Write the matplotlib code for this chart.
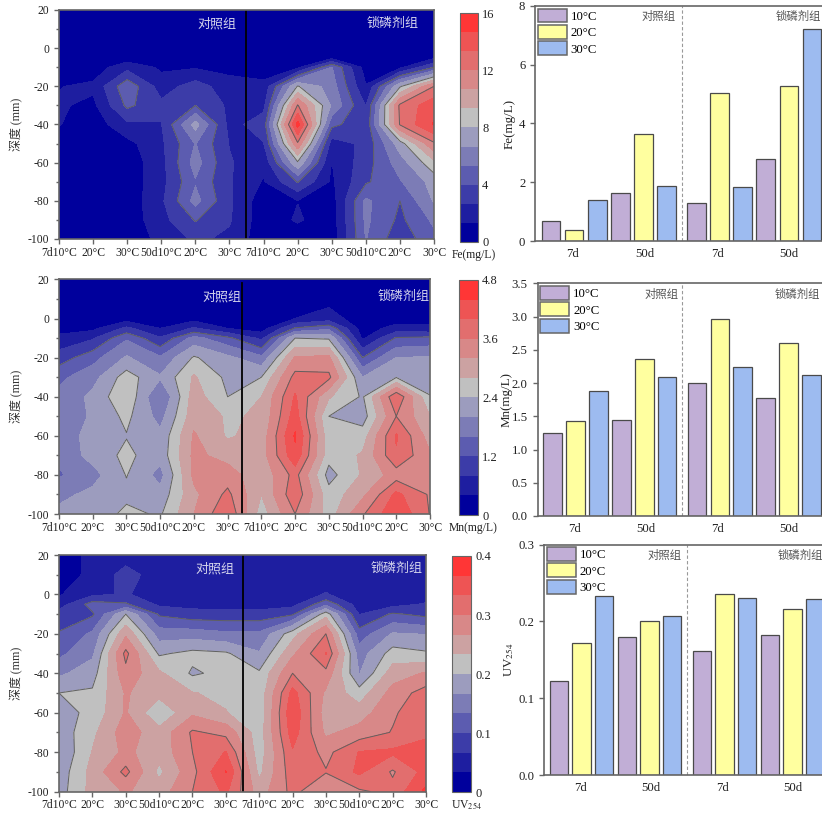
import numpy as np
import matplotlib
matplotlib.use("Agg")
import matplotlib.pyplot as plt
from matplotlib.patches import Patch

plt.rcParams['font.family'] = ['Liberation Serif', 'Noto Sans CJK SC', 'DejaVu Sans']
plt.rcParams['mathtext.fontset'] = 'stix'
plt.rcParams['axes.unicode_minus'] = False

# depth rows of the contour grids, each list below is one tick column top to bottom
depth = [20, 10, 0, -5, -10, -20, -30, -40, -50, -60, -70, -80, -90, -100]
x_labels = ['7d10°C', '20°C', '30°C', '50d10°C', '20°C', '30°C'] * 2

fe_cols = [
    [.5, .5, .5, .5, .6, 1.28, 1.5, 1.4, .6, .5, .5, .5, .5, .5],
    [.5, .5, .5, .5, .6, 1.6, 1.0, .5, .5, .5, .5, .5, .5, .5],
    [.5, .5, .5, .6, 2.2, 5.0, 4.3, 2.4, .9, .5, .5, .5, .5, .5],
    [.5, .5, .5, .6, 1.1, 2.0, 3.0, 2.6, 2.4, 2.2, 2.2, 2.4, 2.2, 1.7],
    [.5, .5, .5, .6, 1.2, 3.3, 4.0, 7.2, 5.4, 5.9, 5.2, 5.8, 4.1, 2.9],
    [.5, .5, .5, .6, .9, 1.9, 2.4, 2.2, 2.6, 2.8, 2.8, 2.9, 2.8, 2.4],
    [.5, .5, .5, .5, .6, 1.7, 2.3, 3.3, 2.6, 1.7, 1.2, .5, .5, .5],
    [.5, .5, .5, .5, 1.0, 8.1, 12.1, 15.2, 11.8, 7.8, 4.1, 1.3, 1.5, .5],
    [.5, .5, .5, .9, 5.4, 6.0, 6.5, 4.4, 2.0, 1.3, 1.1, .7, .6, .5],
    [.5, .5, .5, .5, .7, 1.4, 2.6, 3.0, 3.0, 3.4, 3.8, 5.6, 5.6, 5.4],
    [.5, .5, .5, .6, 1.0, 7.8, 12.3, 12.1, 7.4, 6.0, 5.2, 4.0, 3.7, 3.1],
    [.6, .6, .8, 1.1, 4.0, 12.0, 14.2, 14.8, 11.8, 9.0, 7.2, 6.8, 5.6, 5.0],
]
mn_cols = [
    [.1, .1, .15, .25, .5, 1.0, 1.5, 1.7, 1.75, 1.8, 1.7, 1.55, 1.9, 2.1],
    [.1, .1, .15, .3, .75, 1.45, 1.85, 2.1, 2.05, 2.13, 2.15, 1.85, 2.1, 2.15],
    [.1, .1, .2, .9, 1.55, 2.05, 2.6, 2.75, 2.5, 2.38, 2.5, 2.42, 2.3, 2.5],
    [.1, .1, .12, .4, .85, 1.65, 2.05, 1.55, 1.85, 2.1, 2.15, 1.85, 2.15, 2.35],
    [.1, .1, .25, .85, 1.75, 2.45, 2.85, 3.0, 3.05, 3.25, 3.3, 3.3, 3.1, 3.2],
    [.1, .1, .18, .4, 1.3, 2.1, 2.3, 2.4, 2.75, 2.75, 3.05, 3.4, 3.7, 3.95],
    [.1, .1, .12, .2, .7, 1.7, 2.4, 2.8, 2.85, 2.95, 3.0, 2.9, 2.8, 2.6],
    [.1, .1, .4, 1.25, 2.4, 3.25, 3.75, 4.05, 4.2, 4.45, 4.3, 3.75, 3.9, 3.6],
    [.1, .25, .6, 1.5, 2.35, 3.3, 3.7, 2.85, 2.4, 2.55, 2.55, 2.25, 2.55, 2.6],
    [.1, .1, .15, .2, .33, 1.2, 2.0, 2.35, 2.2, 2.6, 2.85, 2.85, 3.1, 3.55],
    [.1, .1, .2, .55, 1.25, 2.0, 2.38, 3.95, 3.6, 4.05, 3.95, 3.4, 4.1, 4.35],
    [.1, .1, .25, .5, 1.3, 2.05, 2.2, 2.42, 2.8, 3.0, 3.25, 3.4, 3.55, 3.58],
]
uv_cols = [
    [.02, .02, .03, .05, .08, .103, .125, .16, .2, .185, .18, .17, .18, .185],
    [.04, .04, .06, .115, .095, .14, .16, .185, .205, .21, .225, .235, .245, .245],
    [.05, .08, .07, .105, .2, .26, .31, .29, .27, .27, .285, .275, .31, .27],
    [.04, .05, .05, .06, .095, .15, .195, .24, .245, .205, .245, .245, .225, .25],
    [.04, .04, .04, .055, .08, .15, .21, .195, .235, .26, .305, .3, .29, .3],
    [.04, .04, .04, .05, .08, .14, .205, .21, .225, .235, .29, .335, .368, .34],
    [.04, .04, .04, .05, .08, .14, .17, .205, .21, .21, .215, .215, .225, .25],
    [.04, .04, .04, .055, .095, .22, .26, .3, .345, .36, .35, .33, .32, .31],
    [.04, .04, .07, .125, .22, .3, .335, .29, .26, .25, .26, .29, .302, .27],
    [.04, .04, .04, .05, .065, .115, .15, .165, .215, .25, .28, .335, .34, .295],
    [.04, .04, .04, .055, .105, .17, .215, .25, .28, .295, .302, .34, .296, .31],
    [.05, .05, .05, .07, .09, .165, .205, .27, .315, .325, .33, .34, .345, .375],
]

fe_bars = [.68, .37, 1.4, 1.65, 3.65, 1.88, 1.3, 5.03, 1.84, 2.8, 5.27, 7.2]
mn_bars = [1.25, 1.43, 1.88, 1.45, 2.37, 2.09, 2.0, 2.97, 2.24, 1.77, 2.6, 2.13]
uv_bars = [.122, .172, .233, .18, .201, .207, .162, .235, .231, .182, .216, .229]
temps = ['10°C', '20°C', '30°C']
day_labels = ['7d', '50d', '7d', '50d']

band_colors = ['#00009C', '#1E1EA0', '#3C3CA8', '#5C5CB0', '#7C7CB6', '#9C9CBE',
               '#C0C0C0', '#CCA2A2', '#D88888', '#E26E6E', '#EE5454', '#FF3636']
bar_colors = ['#C1AED6', '#FFFF9F', '#9DBBF0']
frame = '#666666'

W, H = 822, 813
fig = plt.figure(figsize=(W / 100, H / 100), dpi=100)


def box(x0, y0, x1, y1):
    # pixel box (top left origin) to figure fraction
    return [x0 / W, 1 - y1 / H, (x1 - x0) / W, (y1 - y0) / H]


def label(x, y, s, **kw):
    fig.text(x / W, 1 - y / H, s, ha='center', va='center', **kw)


def style(ax):
    for s in ax.spines.values():
        s.set_color(frame)
        s.set_linewidth(1.2)
    ax.tick_params(which='both', direction='out', color=frame, width=1)
    ax.tick_params(which='major', length=3.5)
    ax.tick_params(which='minor', length=2)


def contour_panel(cols, vmax, cticks, ctlabels, name, axbox, cbox, line_x, line_top, name_xy):
    ax = fig.add_axes(box(*axbox))
    z = np.array(cols).T
    xs = np.arange(12)
    levels = np.linspace(0, vmax, 13)
    cf = ax.contourf(xs, depth, z, levels=levels, colors=band_colors)
    ax.contour(xs, depth, z, levels=levels[[3, 6, 9]], colors='#606060', linewidths=0.7)
    ax.plot([line_x, line_x], [-100, line_top], color='black', lw=1.3)
    ax.set_xlim(0, 11)
    ax.set_ylim(-100, 20)
    ax.set_xticks(xs)
    ax.set_xticklabels(x_labels, fontsize=8.4, color='#222222')
    ax.set_yticks(range(-100, 21, 20))
    ax.set_yticks(range(-90, 20, 20), minor=True)
    ax.tick_params(axis='y', labelsize=8.4, labelcolor='#222222')
    ax.tick_params(axis='x', pad=2)
    ax.set_ylabel('深度 (mm)', fontsize=8.6, color='#333333')
    ax.yaxis.set_label_coords((23 - axbox[0]) / (axbox[2] - axbox[0]), 0.5)
    style(ax)
    cax = fig.add_axes(box(*cbox))
    cb = fig.colorbar(cf, cax=cax, ticks=cticks)
    cb.ax.set_yticklabels(ctlabels, fontsize=9, color='#222222')
    cb.ax.tick_params(length=0, pad=3)
    cb.outline.set_edgecolor(frame)
    cb.outline.set_linewidth(0.8)
    label(cbox[0] + 14, cbox[3] + 13, name, fontsize=8.4, color='#222222')
    label(name_xy[0], name_xy[2], '对照组', fontsize=9.4, color='#D4D4EC')
    label(name_xy[1], name_xy[2], '锁磷剂组', fontsize=9.4, color='#D4D4EC')


def bar_panel(vals, ymax, yticks, ylab, axbox, x0, step, width, lab_x, names_xy, sep_x):
    ax = fig.add_axes(box(*axbox))
    xs = np.array([0, 1, 2, 3, 4, 5, 6.3, 7.3, 8.3, 9.3, 10.3, 11.3])
    vals = np.array(vals)
    for j in range(3):
        ax.bar(xs[j::3], vals[j::3], width=width, color=bar_colors[j],
               edgecolor='#4A4A4A', linewidth=0.9, label=temps[j])
    ax.axvline(sep_x, color='#999999', lw=0.8, ls=(0, (3, 2)))
    ax.set_xlim((axbox[0] - x0) / step, (axbox[2] - x0) / step)
    ax.set_ylim(0, ymax)
    ax.set_xticks([0.95, 4.05, 7.2, 10.3])
    ax.set_xticklabels(day_labels, fontsize=9.2, color='#222222')
    ax.set_yticks(yticks)
    ax.tick_params(axis='y', labelsize=9.2, labelcolor='#222222')
    ax.tick_params(axis='x', pad=5)
    ax.spines['right'].set_visible(False)
    style(ax)
    ax.tick_params(axis='x', length=0)
    ax.set_ylabel(ylab, fontsize=9.4, color='#222222')
    ax.yaxis.set_label_coords((lab_x - axbox[0]) / (axbox[2] - axbox[0]), 0.5)
    handles = [Patch(facecolor=bar_colors[j], edgecolor='#666666', linewidth=1.1, label=temps[j]) for j in range(3)]
    ax.legend(handles=handles, loc='upper left', frameon=False, fontsize=9.2,
              handlelength=2.3, handleheight=1.3, labelspacing=0.17, handletextpad=0.3,
              borderpad=0.1, borderaxespad=0.1)
    label(names_xy[0], names_xy[2], '对照组', fontsize=8.2, color='#555555')
    label(names_xy[1], names_xy[2], '锁磷剂组', fontsize=8.2, color='#555555')


contour_panel(fe_cols, 16, [0, 4, 8, 12, 16], ['0', '4', '8', '12', '16'], 'Fe(mg/L)',
              (59, 10, 434, 239), (460, 13, 478, 242), 5.49, 20, (217, 393, 24))
contour_panel(mn_cols, 4.8, [0, 1.2, 2.4, 3.6, 4.8], ['0', '1.2', '2.4', '3.6', '4.8'], 'Mn(mg/L)',
              (59, 279.5, 430, 514), (459, 280, 478, 515), 5.44, 18, (222, 404, 297))
contour_panel(uv_cols, 0.4, [0, .1, .2, .3, .4], ['0', '0.1', '0.2', '0.3', '0.4'], 'UV$_{254}$',
              (59, 555, 426, 791.5), (452, 556, 471, 792), 5.52, 20, (215, 397, 569))

bar_panel(fe_bars, 8, [0, 2, 4, 6, 8], 'Fe(mg/L)', (535, 6, 822, 241), 551, 23.1, 0.81,
          516, (659, 798, 16.5), 5.66)
bar_panel(mn_bars, 3.5, [0, .5, 1, 1.5, 2, 2.5, 3, 3.5], 'Mn(mg/L)', (537.5, 283.5, 822, 516), 552.7, 22.9, 0.81,
          513, (662, 797, 294), 5.66)
bar_panel(uv_bars, 0.3, [0, .1, .2, .3], 'UV$_{254}$', (544, 544.5, 822, 775), 559, 22.66, 0.81,
          516, (665, 800, 555.5), 5.66)

fig.savefig('out.png', dpi=100)
